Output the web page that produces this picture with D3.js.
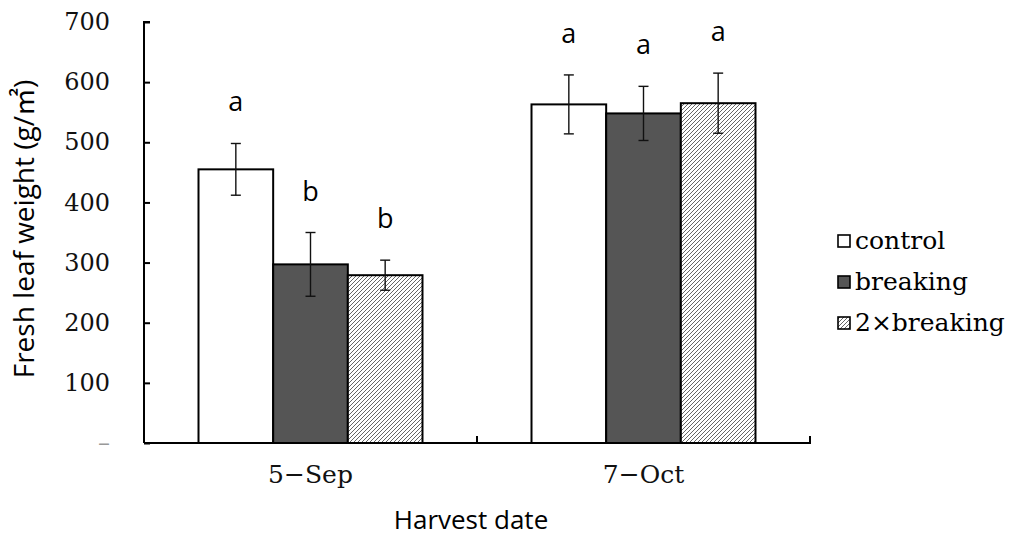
<!DOCTYPE html>
<html>
<head>
<meta charset="UTF-8">
<title>Fresh leaf weight</title>
<script src="https://cdn.jsdelivr.net/npm/d3@7"></script>
<style>
	body { margin: 0; background: #fff; }
	.serif { font-family: "DejaVu Serif", "Liberation Serif", serif; }
	.sans { font-family: "Open Sans", "Noto Sans", "Noto Sans CJK SC", sans-serif; }
</style>
</head>
<body>
<svg id="chart" width="1020" height="536"></svg>
<script>
// data
var dates = ["5-Sep", "7-Oct"];
var series = ["control", "breaking", "2×breaking"];
var controlMean = [455, 563];
var breakingMean = [297, 548];
var doubleMean = [279, 565];
var controlErr = [43, 49];
var breakingErr = [53, 45];
var doubleErr = [25, 50];
var controlLetters = ["a", "a"];
var breakingLetters = ["b", "a"];
var doubleLetters = ["b", "a"];
var yTicks = [0, 100, 200, 300, 400, 500, 600, 700];
var yTickLabels = ["–", "100", "200", "300", "400", "500", "600", "700"];

var svg = d3.select("#chart");
var mLeft = 144, mRight = 810, mTop = 22, mBottom = 443;

var x = d3.scaleBand().domain(dates).range([mLeft, mRight]);
var xs = d3.scaleBand().domain(series).range([0, x.bandwidth()]).paddingOuter(0.73).paddingInner(0);
var y = d3.scaleLinear().domain([0, 700]).range([mBottom, mTop]);

var defs = svg.append("defs");
var pat = defs.append("pattern").attr("id", "hatch").attr("patternUnits", "userSpaceOnUse")
	.attr("width", 4).attr("height", 4);
pat.append("rect").attr("width", 4).attr("height", 4).attr("fill", "#fff");
pat.append("path").attr("d", "M-1,1 l2,-2 M0,4 l4,-4 M3,5 l2,-2")
	.attr("stroke", "#555").attr("stroke-width", 0.9);

var fills = {"control": "#fff", "breaking": "#555555", "2×breaking": "url(#hatch)"};
var rows = [];
dates.forEach(function (d, i) {
	rows.push({date: d, s: "control", v: controlMean[i], e: controlErr[i], l: controlLetters[i]});
	rows.push({date: d, s: "breaking", v: breakingMean[i], e: breakingErr[i], l: breakingLetters[i]});
	rows.push({date: d, s: "2×breaking", v: doubleMean[i], e: doubleErr[i], l: doubleLetters[i]});
});
function cx(d) { return x(d.date) + xs(d.s) + xs.bandwidth() / 2; }

// bars
svg.append("g").selectAll("rect").data(rows).enter().append("rect")
	.attr("x", function (d) { return x(d.date) + xs(d.s); })
	.attr("y", function (d) { return y(d.v); })
	.attr("width", xs.bandwidth())
	.attr("height", function (d) { return mBottom - y(d.v); })
	.attr("fill", function (d) { return fills[d.s]; })
	.attr("stroke", "#000").attr("stroke-width", 2);

// error bars
var eb = svg.append("g").attr("stroke", "#111").attr("stroke-width", 1.4);
rows.forEach(function (d) {
	var c = cx(d);
	eb.append("line").attr("x1", c).attr("x2", c).attr("y1", y(d.v - d.e)).attr("y2", y(d.v + d.e));
	eb.append("line").attr("x1", c - 5).attr("x2", c + 5).attr("y1", y(d.v - d.e)).attr("y2", y(d.v - d.e));
	eb.append("line").attr("x1", c - 5).attr("x2", c + 5).attr("y1", y(d.v + d.e)).attr("y2", y(d.v + d.e));
});

// significance letters
svg.append("g").selectAll("text").data(rows).enter().append("text")
	.attr("class", "sans")
	.attr("x", cx)
	.attr("y", function (d) { return y(d.v + d.e) - 32; })
	.attr("text-anchor", "middle")
	.attr("font-size", 27)
	.text(function (d) { return d.l; });

// axes
var yAxis = d3.axisLeft(y).tickValues(yTicks).tickSize(-6).tickPadding(34)
	.tickFormat(function (d, i) { return yTickLabels[i]; });
var gy = svg.append("g").attr("transform", "translate(" + mLeft + ",0)").call(yAxis);
gy.select(".domain").attr("d", "M6," + mTop + "H0V" + mBottom).attr("stroke-width", 2);
gy.selectAll(".tick line").attr("stroke-width", 2);
gy.selectAll(".tick text").attr("class", "serif").attr("font-size", 24).attr("fill", "#111");
gy.selectAll(".tick").filter(function (d) { return d === 0; }).select("text").attr("fill", "#999");

var xAxis = d3.axisBottom(x).tickSize(0).tickPadding(22);
var gx = svg.append("g").attr("transform", "translate(0," + mBottom + ")").call(xAxis);
gx.select(".domain").attr("d", "M" + mLeft + ",0H" + mRight + "V-7").attr("stroke-width", 2);
gx.selectAll(".tick text").attr("class", "serif").attr("font-size", 25).attr("fill", "#111")
	.text(function (d) { return d.replace("-", "−"); });
gx.append("line").attr("x1", x(dates[1])).attr("x2", x(dates[1])).attr("y1", 0).attr("y2", -7)
	.attr("stroke", "#000").attr("stroke-width", 2);

// axis titles
svg.append("text").attr("class", "sans").attr("font-size", 28)
	.attr("transform", "translate(34,229) rotate(-90)").attr("text-anchor", "middle")
	.text("Fresh leaf weight (g/㎡)");
svg.append("text").attr("class", "sans").attr("font-size", 26)
	.attr("x", 471).attr("y", 529).attr("text-anchor", "middle")
	.text("Harvest date");

// legend
var lg = svg.append("g").attr("transform", "translate(838,241)");
series.forEach(function (s, i) {
	var g = lg.append("g").attr("transform", "translate(0," + i * 41 + ")");
	g.append("rect").attr("x", 0).attr("y", -6).attr("width", 12).attr("height", 12)
		.attr("fill", fills[s]).attr("stroke", "#000").attr("stroke-width", 1.6);
	g.append("text").attr("class", "serif").attr("x", 17).attr("y", 8).attr("font-size", 25)
		.text(s);
});
</script>
</body>
</html>
